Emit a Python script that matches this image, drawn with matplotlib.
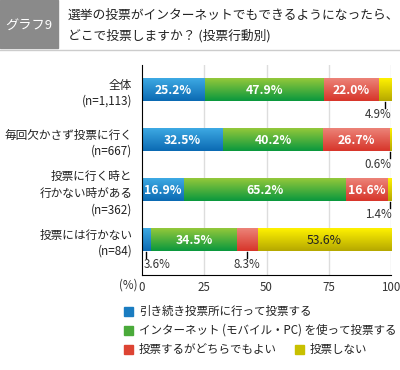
import matplotlib
matplotlib.use('Agg')
import matplotlib.pyplot as plt
import numpy as np
from matplotlib.colors import LinearSegmentedColormap
from matplotlib.patches import Rectangle

plt.rcParams['font.family'] = ['Noto Sans CJK JP', 'DejaVu Sans']

groups = ['全体\n(n=1,113)', '毎回欠かさず投票に行く\n(n=667)', '投票に行く時と\n行かない時がある\n(n=362)', '投票には行かない\n(n=84)']
series = ['引き続き投票所に行って投票する', 'インターネット (モバイル・PC) を使って投票する', '投票するがどちらでもよい', '投票しない']
ballot = [25.2, 32.5, 16.9, 3.6]
internet = [47.9, 40.2, 65.2, 34.5]
either = [22.0, 26.7, 16.6, 8.3]
novote = [4.9, 0.6, 1.4, 53.6]
xticks = [0, 25, 50, 75, 100]

# gradient (top, bottom) and legend colour per series
grad = [('#3da9e3', '#0b6ab3'), ('#93c83a', '#0a983e'), ('#ec8378', '#d7352a'), ('#fff200', '#b5a800')]
legend_col = ['#1a7cc1', '#4aaa3a', '#dd4433', '#c8c000']

fig = plt.figure(figsize=(4, 3.7), dpi=100)

# header
fig.patches.append(Rectangle((0, 1 - 48/370), 58/400, 48/370, transform=fig.transFigure, color='#8a8a8a', zorder=0))
fig.text(29/400, 1 - 25/370, 'グラフ9', color='white', fontsize=9.5, ha='center', va='center')
fig.text(68/400, 1 - 15/370, '選挙の投票がインターネットでもできるようになったら、', fontsize=9.2, va='center', color='#222222')
fig.text(68/400, 1 - 36/370, 'どこで投票しますか？ (投票行動別)', fontsize=9.2, va='center', color='#222222')
fig.lines.append(plt.Line2D([0, 1], [1 - 49.5/370] * 2, transform=fig.transFigure, color='#cccccc', lw=1))

ax = fig.add_axes([142/400, 1 - 275/370, 249/400, 210/370])
ax.set_xlim(0, 100)
ax.set_ylim(3.7, -0.5)
h = 0.46

data = np.array([ballot, internet, either, novote])
for i in range(len(groups)):
    left = 0
    for s in range(4):
        w = data[s][i]
        cmap = LinearSegmentedColormap.from_list('g', [grad[s][0], grad[s][1]])
        ax.imshow(np.linspace(0, 1, 50).reshape(-1, 1), cmap=cmap, aspect='auto',
                  extent=(left, left + w, i + h/2, i - h/2), zorder=2, interpolation='bilinear')
        if w >= 10:
            col = '#222222' if s == 3 else 'white'
            wt = 'normal' if s == 3 else 'bold'
            ax.text(left + w/2, i, f'{w:.1f}%', color=col, fontsize=8.8, ha='center', va='center',
                    fontweight=wt, zorder=3)
        else:
            cx = left + w/2
            ax.plot([cx, cx], [i + h/2, i + h/2 + 0.13], color='black', lw=1, zorder=3, clip_on=False)
            if i == 3 and s == 0:
                ax.text(0.8, i + h/2 + 0.25, f'{w:.1f}%', fontsize=8.3, ha='left', va='center', color='#333333')
            elif i == 3:
                ax.text(cx, i + h/2 + 0.25, f'{w:.1f}%', fontsize=8.3, ha='center', va='center', color='#333333')
            else:
                ax.text(100.3, i + h/2 + 0.25, f'{w:.1f}%', fontsize=8.3, ha='right', va='center', color='#333333')
        left += w

for x in xticks[1:]:
    ax.axvline(x, color='#dddddd', lw=1, zorder=1)

ax.set_xticks(xticks)
ax.set_xticklabels([str(x) for x in xticks], fontsize=8.3, color='#333333')
ax.tick_params(axis='x', length=0, pad=4)
ax.set_yticks(range(len(groups)))
ax.set_yticklabels(groups, fontsize=8.4, color='#222222', linespacing=1.35)
ax.tick_params(axis='y', length=0, pad=7)
for sp in ['top', 'right']:
    ax.spines[sp].set_visible(False)
ax.spines['left'].set_color('black')
ax.spines['bottom'].set_color('black')
fig.text(137/400, 1 - 285/370, '(%)', fontsize=8.3, ha='right', va='center', color='#333333')

# legend
pos = [(124, 311), (124, 330), (124, 349), (295, 349)]
for (px, py), lab, c in zip(pos, series, legend_col):
    fig.patches.append(Rectangle((px/400, 1 - (py + 5)/370), 9/400, 9/370, transform=fig.transFigure, color=c))
    fig.text((px + 15)/400, 1 - py/370, lab, fontsize=8.3, va='center', color='#222222')

fig.savefig('out.png', dpi=100)
